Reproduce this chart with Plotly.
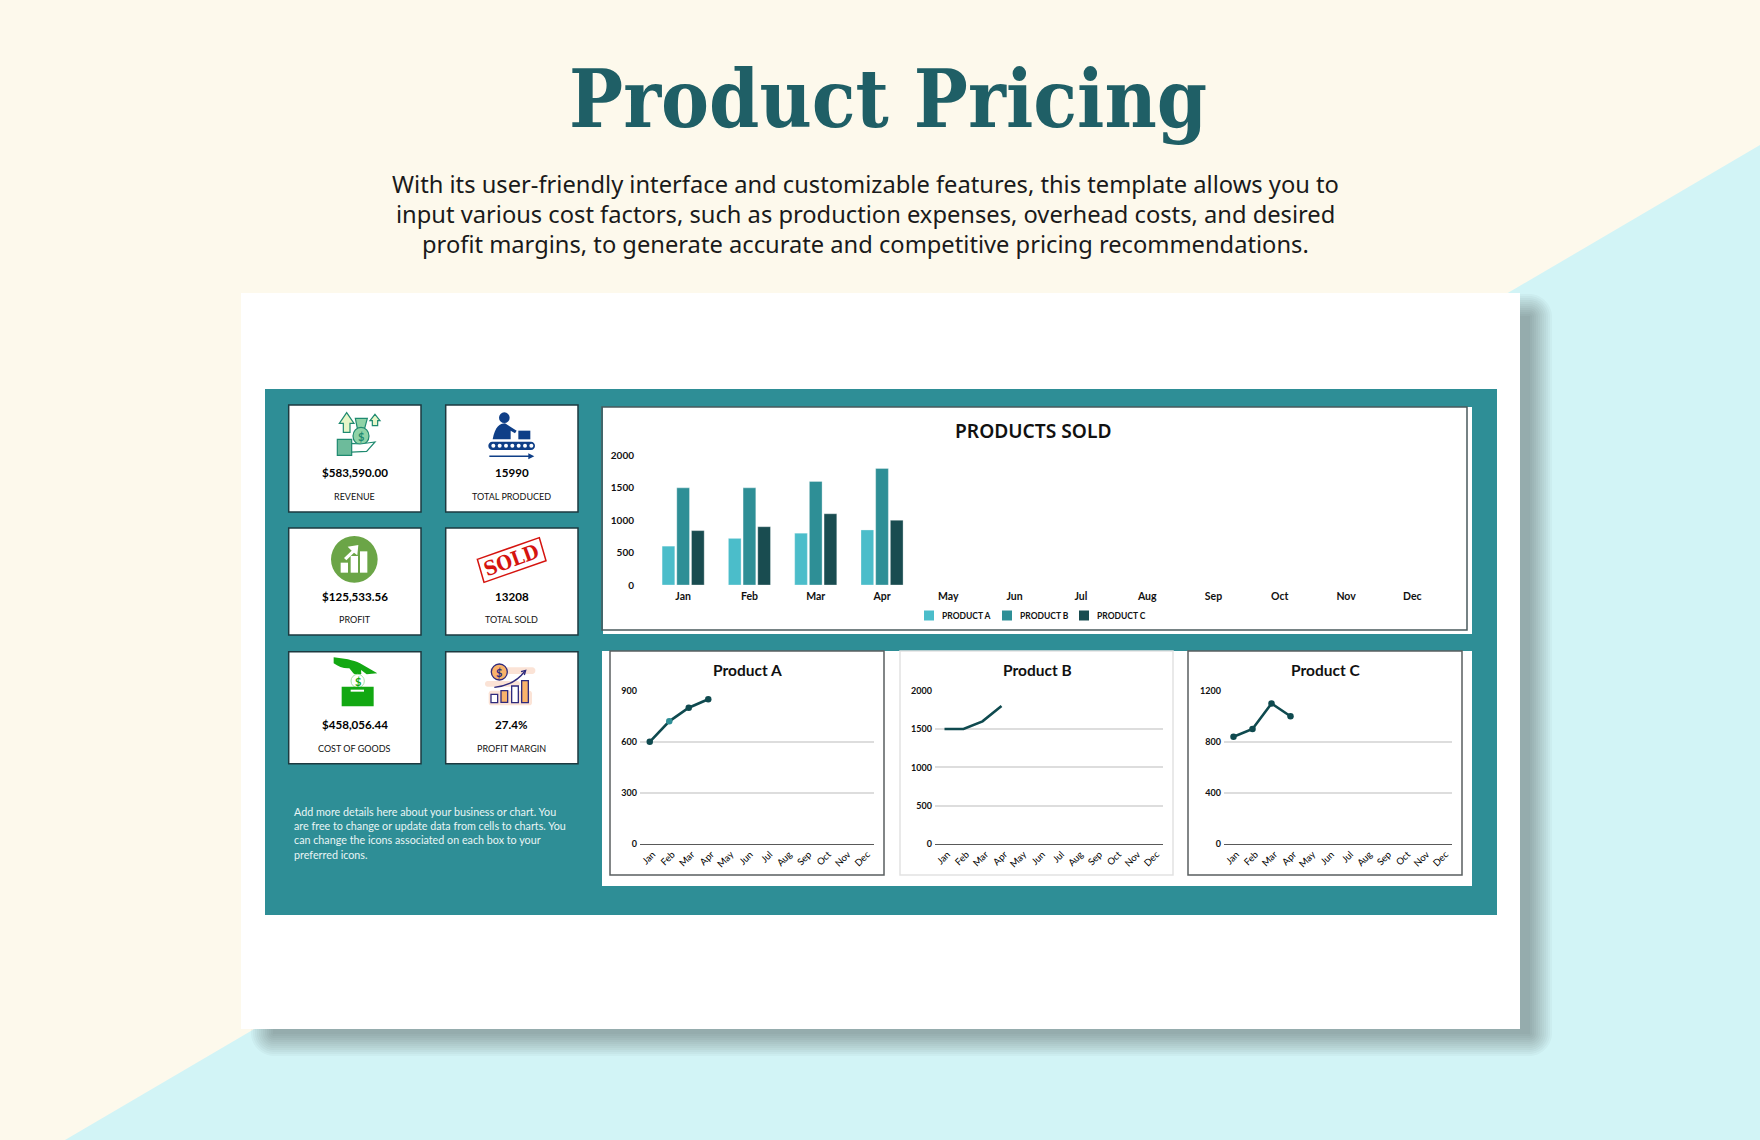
import re
import plotly.graph_objects as go

W, H = 1760, 1140

# ---------- data ----------
months = ["Jan", "Feb", "Mar", "Apr", "May", "Jun", "Jul", "Aug", "Sep", "Oct", "Nov", "Dec"]
product_a = [600, 720, 800, 850]
product_b = [1500, 1500, 1600, 1800]
product_c = [840, 900, 1100, 1000]
series_names = ["PRODUCT A", "PRODUCT B", "PRODUCT C"]
bar_ticks = [0, 500, 1000, 1500, 2000]
a_ticks = [0, 300, 600, 900]
b_ticks = [0, 500, 1000, 1500, 2000]
c_ticks = [0, 400, 800, 1200]
kpi_values = ["$583,590.00", "15990", "$125,533.56", "13208", "$458,056.44", "27.4%"]
kpi_labels = ["REVENUE", "TOTAL PRODUCED", "PROFIT", "TOTAL SOLD", "COST OF GOODS", "PROFIT MARGIN"]
note_lines = [
    "Add more details here about your business or chart. You",
    "are free to change or update data from cells to charts. You",
    "can change the icons associated on each box to your",
    "preferred icons.",
]
desc_lines = [
    "With its user-friendly interface and customizable features, this template allows you to",
    "input various cost factors, such as production expenses, overhead costs, and desired",
    "profit margins, to generate accurate and competitive pricing recommendations.",
]

# ---------- styles ----------
CREAM, CYAN, TEAL = "#FDF9EC", "#D2F4F6", "#2E8E96"
C_A, C_B, C_C = "#4BBDCA", "#2E8F96", "#194C50"
LINE = "#0F4A4F"
FONT = "Lato"

shapes, annos = [], []


def px(x):
    return x / W


def py(y):
    return 1 - y / H


def conv(d, fx=lambda v: v, fy=lambda v: v):
    toks = re.findall(r"[MLCZ]|-?\d+\.?\d*", d)
    out, i = [], 0
    for t in toks:
        if t in "MLCZ":
            out.append(t)
        else:
            out.append(f"{px(fx(float(t))):.6f}" if i % 2 == 0 else f"{py(fy(float(t))):.6f}")
            i += 1
    return " ".join(out)


def rect(x0, y0, x1, y1, fill=None, line=None, lw=1):
    shapes.append(dict(type="rect", layer="below", xref="paper", yref="paper", x0=px(x0), x1=px(x1), y0=py(y1), y1=py(y0),
                       fillcolor=fill or "rgba(0,0,0,0)", line=dict(color=line or "rgba(0,0,0,0)", width=lw if line else 0)))


def path(d, fill=None, line=None, lw=1, fx=lambda v: v, fy=lambda v: v):
    shapes.append(dict(type="path", layer="below", xref="paper", yref="paper", path=conv(d, fx, fy),
                       fillcolor=fill or "rgba(0,0,0,0)",
                       line=dict(color=line or "rgba(0,0,0,0)", width=lw if line else 0)))


def text(x, y, s, size, color="#111111", family=FONT, weight=None, anchor="center", angle=0):
    f = dict(size=size, color=color, family=family)
    if weight:
        f["weight"] = weight
    annos.append(dict(xref="paper", yref="paper", x=px(x), y=py(y), text=s, showarrow=False, font=f,
                      xanchor=anchor, yanchor="middle", textangle=angle, align=anchor))


# icon coordinates are measured on a 3x grid whose origin is (260, 380)
zx = lambda v: 260 + v / 3
zy = lambda v: 380 + v / 3


def zpath(d, fill=None, line=None, lw=1):
    path(d, fill, line, lw, zx, zy)


def zrect(x0, y0, x1, y1, fill=None, line=None, lw=1):
    rect(zx(x0), zy(y0), zx(x1), zy(y1), fill, line, lw)


def zcirc(cx, cy, r, fill=None, line=None, lw=1, ry=None):
    ry = ry or r
    shapes.append(dict(type="circle", layer="below", xref="paper", yref="paper", x0=px(zx(cx - r)), x1=px(zx(cx + r)),
                       y0=py(zy(cy + ry)), y1=py(zy(cy - ry)), fillcolor=fill or "rgba(0,0,0,0)",
                       line=dict(color=line or "rgba(0,0,0,0)", width=lw if line else 0)))


def rounded(x0, y0, x1, y1, r):
    k = r * 0.45
    return (f"M {x0+r} {y0} L {x1-r} {y0} C {x1-k} {y0} {x1} {y0+k} {x1} {y0+r} L {x1} {y1-r} "
            f"C {x1} {y1-k} {x1-k} {y1} {x1-r} {y1} L {x0+r} {y1} C {x0+k} {y1} {x0} {y1-k} {x0} {y1-r} "
            f"L {x0} {y0+r} C {x0} {y0+k} {x0+k} {y0} {x0+r} {y0} Z")


# ---------- background ----------
path("M 1760 145 L 65 1140 L 1760 1140 Z", fill=CYAN)
for i in range(12):
    o = 11 - 2 * i
    path(rounded(262 - o, 305 - o, 1541 + o, 1045 + o, 12 + o), fill="rgba(30,40,40,0.03)")
rect(241, 293, 1520, 1029, fill="#FFFFFF")
rect(265, 389, 1497, 915, fill=TEAL)

# header
text(888, 99, "Product Pricing", 80, color="#1F5F66", family="DejaVu Serif Condensed", weight=700)
for y, s in zip((184, 214, 244), desc_lines):
    text(865, y, s, 23.7, color="#1A1A1A", family="Noto Sans")

# ---------- KPI cards ----------
card_x = [(288.7, 421), (445.7, 578)]
card_y = [(405, 512, 472.7, 496), (528, 635, 596.7, 619.7), (651.7, 763.7, 724.7, 748)]
k = 0
for r in card_y:
    for c in card_x:
        rect(c[0], r[0], c[1], r[1], fill="#FFFFFF", line="#1D3A40", lw=1.5)
        mid = (c[0] + c[1]) / 2
        text(mid, r[2], kpi_values[k], 11.6, color="#000000", weight=700)
        text(mid, r[3], kpi_labels[k], 9.0, color="#111111")
        k += 1

# icon: revenue
G1, G2 = "#1F8A70", "#8FD3A7"
zpath("M 260 98 L 282 130 L 270 130 L 270 157 L 250 157 L 250 130 L 238 130 Z", "#E7F6C8", G1, 1.2)
zpath("M 345 103 L 360 122 L 353 122 L 353 137 L 337 137 L 337 122 L 330 122 Z", "#E7F6C8", G1, 1.2)
zpath("M 286 115 L 322 115 L 314 145 L 292 145 Z", G2, G1, 1.2)
zcirc(303, 168, 24, G2, G1, 1.2, 26)
text(zx(303), zy(170), "$", 11, color=G1, weight=700)
zrect(232, 178, 275, 226, "#6DBB9B", G1, 1.2)
zpath("M 275 190 L 300 192 L 345 186 L 320 214 L 275 216 Z", "#FFFFFF", G1, 1.2)

# icon: produced
N = "#0F3F87"
zcirc(733, 113, 16, N)
zpath("M 698 178 C 705 140 720 130 735 130 L 770 152 L 765 160 L 752 152 L 752 178 Z", N)
zrect(775, 152, 811, 178, N)
zpath(rounded(685, 185, 825, 210, 12), N)
for xd in range(700, 815, 19):
    zcirc(xd, 197, 6, "#FFFFFF")
zpath("M 688 229 L 810 229", None, N, 1.5)
zpath("M 805 220 L 823 229 L 805 238 Z", N)

# icon: profit
zcirc(283, 538, 70, "#6BA547")
zrect(242, 548, 264, 578, "#FFFFFF")
zrect(272, 528, 294, 578, "#FFFFFF")
zrect(300, 514, 322, 578, "#FFFFFF")
zpath("M 252 534 L 275 512 L 263 500 L 295 495 L 292 526 L 282 518 L 259 541 Z", "#FFFFFF")

# icon: sold stamp
RED = "#D5140F"
zpath("M 652 538 L 838 473 L 858 542 L 672 607 Z", "#FFFFFF", RED, 1.5)
text(zx(755), zy(541), "SOLD", 20, color=RED, family="DejaVu Serif Condensed", weight=700, angle=-20)

# icon: cost of goods
GR = "#12A812"
zpath("M 221 832 C 250 835 280 840 300 850 L 352 880 L 320 883 L 303 870 L 304 882 C 295 888 287 886 280 880 L 268 865 C 250 866 235 860 221 850 Z", GR)
zcirc(293, 903, 20, "#FFFFFF", "#A6E3A6", 1)
text(zx(293), zy(904), "$", 11, color=GR, weight=700)
zrect(245, 920, 341, 979, GR)
zrect(272, 929, 312, 935, "#FFFFFF")

# icon: profit margin
P, O, NV = "#FBE3D6", "#F9B36B", "#2E2A7D"
zpath(rounded(690, 862, 826, 882, 9), P)
zpath(rounded(675, 903, 780, 920, 8), P)
zpath(rounded(686, 932, 816, 976, 8), P)
zcirc(718, 876, 24, O, NV, 1.3)
text(zx(718), zy(877), "$", 11, color=NV, weight=700)
zpath("M 703 922 C 745 918 775 900 795 873", None, NV, 1.3)
zpath("M 783 875 L 797 871 L 793 885", None, NV, 1.3)
zrect(693, 943, 713, 968, "#FFFFFF", NV, 1.3)
zrect(723, 932, 743, 967, O, NV, 1.3)
zrect(755, 918, 775, 968, "#FFFFFF", NV, 1.3)
zrect(785, 902, 805, 968, O, NV, 1.3)

# note
for y, s in zip((811, 825.2, 839.4, 854), note_lines):
    text(291.5, y, s, 10.75, color="#E9F5F5", anchor="left")

# ---------- chart frames ----------
rect(603, 407, 1472, 634, fill="#FFFFFF")
rect(602, 407, 1467, 630, line="#4A5A5C", lw=1.5)
rect(602, 651, 1472, 886, fill="#FFFFFF")
rect(610, 651, 884, 875, fill="#FFFFFF", line="#5A5F60", lw=1.5)
rect(900, 651, 1173, 875, fill="#FFFFFF", line="#E2E2E2", lw=1.5)
rect(1188, 651, 1462, 875, fill="#FFFFFF", line="#5A5F60", lw=1.5)

text(1033, 430, "PRODUCTS SOLD", 19.2, color="#111111", family="Noto Sans", weight=600)
text(747, 670, "Product A", 15.5, weight=700)
text(1037, 670, "Product B", 15.5, weight=700)
text(1325.7, 670, "Product C", 15.5, weight=700)

# legend key drawn beside its text so the spacing matches the reference
for x, name, col in zip((924, 1002, 1079), series_names, (C_A, C_B, C_C)):
    rect(x, 610.5, x + 10, 620.5, fill=col)
    text(x + 16, 615.5, name, 8.5, weight=700, anchor="left")

# ---------- traces ----------
fig = go.Figure()
tickf = dict(family=FONT, size=10, color="#111111", weight=700)

for vals, name, col in zip((product_a, product_b, product_c), series_names, (C_A, C_B, C_C)):
    fig.add_trace(go.Bar(x=months[:len(vals)], y=vals, name=name, showlegend=False,
                         marker=dict(color=col, line=dict(color="rgba(255,255,255,0.45)", width=0.7)),
                         xaxis="x", yaxis="y"))


def line_trace(vals, axis_n, marker_cols):
    mode = "lines+markers" if marker_cols else "lines"
    t = dict(x=months[:len(vals)], y=vals, mode=mode, showlegend=False, line=dict(color=LINE, width=2.6),
             xaxis=f"x{axis_n}", yaxis=f"y{axis_n}", cliponaxis=False)
    if marker_cols:
        t["marker"] = dict(size=6.5, color=marker_cols)
    fig.add_trace(go.Scatter(**t))


line_trace(product_a, 2, [LINE, C_B, LINE, LINE])
line_trace(product_b, 3, None)
line_trace(product_c, 4, [LINE, LINE, LINE, LINE])

layout = dict(
    width=W, height=H, margin=dict(l=0, r=0, t=0, b=0, autoexpand=False), paper_bgcolor=CREAM, plot_bgcolor="rgba(0,0,0,0)",
    shapes=shapes, annotations=annos, showlegend=False, barmode="group", bargap=0.335, bargroupgap=0.135,
    xaxis=dict(domain=[px(650), px(1445.5)], anchor="y", type="category", categoryorder="array", categoryarray=months,
               range=[-0.5, 11.5], showgrid=False, showline=False, ticks="", tickfont=dict(family=FONT, size=10.5, color="#111111", weight=700),
               ticklabelstandoff=3, zeroline=False),
    yaxis=dict(domain=[py(585), py(455.5)], anchor="x", range=[0, 2000], tickvals=bar_ticks, showgrid=False, showline=False,
               zeroline=False, ticks="", tickfont=tickf, ticklabelstandoff=15),
)
boxes = [(2, 640, 874, a_ticks), (3, 935, 1163, b_ticks), (4, 1224, 1452, c_ticks)]
for n, x0, x1, tv in boxes:
    layout[f"xaxis{n}"] = dict(domain=[px(x0), px(x1)], anchor=f"y{n}", type="category", categoryorder="array",
                               categoryarray=months, range=[-0.5, 11.5], showgrid=False, showline=True, linecolor="#595959",
                               linewidth=1.3, ticks="", tickangle=-45, ticklabelshift=3,
                               tickfont=dict(family=FONT, size=9.5, color="#000000"), zeroline=False)
    layout[f"yaxis{n}"] = dict(domain=[py(844), py(690.7)], anchor=f"x{n}", range=[0, tv[-1]], tickvals=tv, showgrid=True,
                               gridcolor="#DDDDDD", gridwidth=1.8, showline=False, zeroline=False, ticks="",
                               tickfont=dict(family=FONT, size=9, color="#111111", weight=700), ticklabelstandoff=2)
fig.update_layout(**layout)
fig.write_html("out.html", config=dict(displayModeBar=False), post_script="document.body.style.margin='0';document.body.style.overflow='hidden';")
